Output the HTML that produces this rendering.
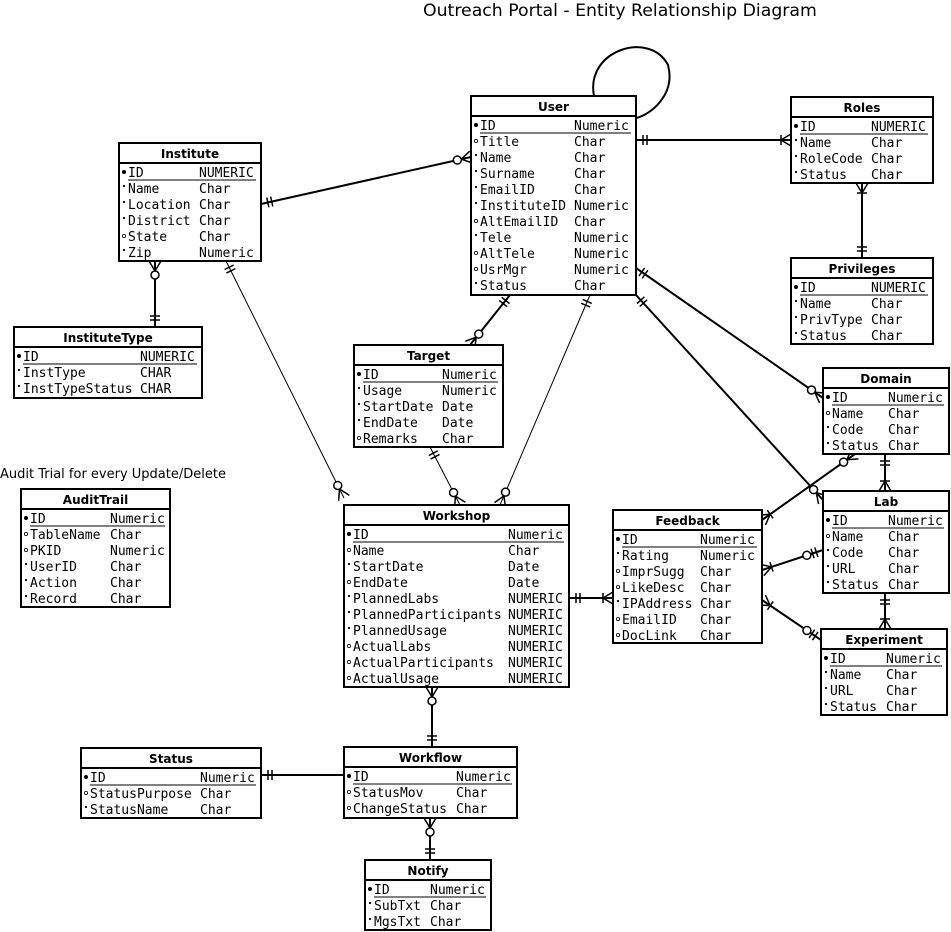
<!DOCTYPE html>
<html><head><meta charset="utf-8">
<style>
html,body{margin:0;padding:0;background:#fff;}
svg{display:block;}
.t{font-family:"DejaVu Sans Mono","Liberation Mono",monospace;font-size:13px;fill:#000;}
.h{font-family:"DejaVu Sans","Liberation Sans",sans-serif;font-size:12px;font-weight:bold;fill:#000;}
</style></head>
<body>
<svg id="s" width="951" height="932" xmlns="http://www.w3.org/2000/svg">
<rect width="951" height="932" fill="#fff"/>
<text x="423" y="16" font-family="DejaVu Sans, Liberation Sans, sans-serif" font-size="17.3">Outreach Portal - Entity Relationship Diagram</text>
<text x="0" y="478" font-family="DejaVu Sans, Liberation Sans, sans-serif" font-size="13">Audit Trial for every Update/Delete</text>
<g id="lines" stroke="#000" fill="none"></g>
<path d="M594,96 C585,50 650,30 668,65 C676,95 650,115 636,118" stroke="#000" stroke-width="2" fill="none"/>
<g id="tables"></g>
</svg>
<script>
var NS="http://www.w3.org/2000/svg";
function el(p,n,a,txt){var e=document.createElementNS(NS,n);for(var k in a)e.setAttribute(k,a[k]);if(txt!=null)e.textContent=txt;p.appendChild(e);return e;}
var T=document.getElementById("tables"),L=document.getElementById("lines");
var tables=[
["User",471,96,636,295,574,[["ID","Numeric","d"],["Title","Char","o"],["Name","Char","s"],["Surname","Char","s"],["EmailID","Char","s"],["InstituteID","Numeric","s"],["AltEmailID","Char","o"],["Tele","Numeric","s"],["AltTele","Numeric","o"],["UsrMgr","Numeric","o"],["Status","Char","s"]]],
["Roles",791,97,933,183,871,[["ID","NUMERIC","d"],["Name","Char","s"],["RoleCode","Char","s"],["Status","Char","s"]]],
["Privileges",791,258,933,344,871,[["ID","NUMERIC","d"],["Name","Char","s"],["PrivType","Char","s"],["Status","Char","s"]]],
["Institute",119,143,261,261,199,[["ID","NUMERIC","d"],["Name","Char","s"],["Location","Char","s"],["District","Char","s"],["State","Char","o"],["Zip","Numeric","s"]]],
["InstituteType",14,327,202,398,140,[["ID","NUMERIC","d"],["InstType","CHAR","s"],["InstTypeStatus","CHAR","s"]]],
["Target",354,345,503,447,442,[["ID","Numeric","d"],["Usage","Numeric","s"],["StartDate","Date","s"],["EndDate","Date","s"],["Remarks","Char","o"]]],
["AuditTrail",21,489,170,607,110,[["ID","Numeric","d"],["TableName","Char","o"],["PKID","Numeric","o"],["UserID","Char","s"],["Action","Char","s"],["Record","Char","s"]]],
["Workshop",344,505,569,687,508,[["ID","Numeric","d"],["Name","Char","o"],["StartDate","Date","s"],["EndDate","Date","o"],["PlannedLabs","NUMERIC","s"],["PlannedParticipants","NUMERIC","s"],["PlannedUsage","NUMERIC","s"],["ActualLabs","NUMERIC","o"],["ActualParticipants","NUMERIC","o"],["ActualUsage","NUMERIC","o"]]],
["Feedback",613,510,762,643,700,[["ID","Numeric","d"],["Rating","Numeric","s"],["ImprSugg","Char","o"],["LikeDesc","Char","o"],["IPAddress","Char","s"],["EmailID","Char","o"],["DocLink","Char","o"]]],
["Domain",823,368,949,454,888,[["ID","Numeric","d"],["Name","Char","o"],["Code","Char","s"],["Status","Char","s"]]],
["Lab",823,491,949,593,888,[["ID","Numeric","d"],["Name","Char","o"],["Code","Char","s"],["URL","Char","s"],["Status","Char","s"]]],
["Experiment",821,629,947,715,886,[["ID","Numeric","d"],["Name","Char","s"],["URL","Char","s"],["Status","Char","s"]]],
["Status",81,748,261,818,200,[["ID","Numeric","d"],["StatusPurpose","Char","o"],["StatusName","Char","s"]]],
["Workflow",344,747,517,818,456,[["ID","Numeric","d"],["StatusMov","Char","o"],["ChangeStatus","Char","o"]]],
["Notify",365,860,491,930,430,[["ID","Numeric","d"],["SubTxt","Char","s"],["MgsTxt","Char","s"]]]
];
tables.forEach(function(t){
 var x1=t[1],y1=t[2],x2=t[3],y2=t[4],c2=t[5],rows=t[6];
 el(T,"rect",{x:x1,y:y1,width:x2-x1,height:y2-y1,fill:"#fff",stroke:"#000","stroke-width":2});
 el(T,"line",{x1:x1,y1:y1+20,x2:x2,y2:y1+20,stroke:"#000","stroke-width":2});
 el(T,"text",{x:(x1+x2)/2,y:y1+15,"text-anchor":"middle","class":"h"},t[0]);
 rows.forEach(function(r,i){
  var by=y1+34+16*i;
  if(r[2]=="d")el(T,"circle",{cx:x1+5,cy:by-5,r:2,fill:"#000"});
  else if(r[2]=="o")el(T,"circle",{cx:x1+5,cy:by-5,r:1.6,fill:"none",stroke:"#000","stroke-width":0.8});
  else el(T,"circle",{cx:x1+5,cy:by-7,r:1.1,fill:"#000"});
  el(T,"text",{x:x1+9,y:by,"class":"t"},r[0]);
  el(T,"text",{x:c2,y:by,"class":"t"},r[1]);
  if(i==0)el(T,"line",{x1:x1+9,y1:by+3,x2:x2-5,y2:by+3,stroke:"#000","stroke-width":1});
 });
});
var C=[
[636,140,791,140,"one","many",2],
[862,183,862,258,"many","one",2],
[261,204,471,157,"one","omany",2],
[155,261,155,327,"omany","one",2],
[226,261,344,498,"one","omany",1],
[510,295,470,345,"one","omany",2],
[590,295,500,505,"one","omany",1],
[636,268,823,398,"one","omany",2],
[636,295,823,500,"one","omany",2],
[430,447,460,505,"one","omany",1],
[569,598,613,598,"one","many",2],
[762,520,855,454,"many","omany",2],
[762,570,823,550,"many","oone",2],
[762,600,821,640,"many","oone",2],
[885,454,885,491,"one","many",2],
[885,593,885,629,"one","many",2],
[432,687,432,747,"omany","one",2],
[261,775,344,775,"one","",2],
[430,818,430,860,"omany","one",2]
];
function mark(x,y,ux,uy,type,w){
 var px=-uy,py=ux;
 function bar(d,h){el(L,"line",{x1:x+ux*d+px*h,y1:y+uy*d+py*h,x2:x+ux*d-px*h,y2:y+uy*d-py*h,"stroke-width":w});}
 if(type=="one"||type=="oone"){bar(7,5);bar(11,5);if(type=="oone")el(L,"circle",{cx:x+ux*17,cy:y+uy*17,r:4,fill:"#fff","stroke-width":w});}
 if(type=="many"||type=="omany"){
  el(L,"line",{x1:x+px*6,y1:y+py*6,x2:x+ux*10,y2:y+uy*10,"stroke-width":w});
  el(L,"line",{x1:x-px*6,y1:y-py*6,x2:x+ux*10,y2:y+uy*10,"stroke-width":w});
  if(type=="many")bar(10,5);
  else el(L,"circle",{cx:x+ux*14,cy:y+uy*14,r:4,fill:"#fff","stroke-width":w});
 }
}
C.forEach(function(c){
 el(L,"line",{x1:c[0],y1:c[1],x2:c[2],y2:c[3],"stroke-width":c[6]});
 var dx=c[2]-c[0],dy=c[3]-c[1],l=Math.sqrt(dx*dx+dy*dy),ux=dx/l,uy=dy/l;
 mark(c[0],c[1],ux,uy,c[4],1.5);
 mark(c[2],c[3],-ux,-uy,c[5],1.5);
});
</script>
</body></html>
